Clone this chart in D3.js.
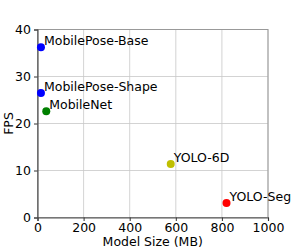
<!DOCTYPE html>
<html>
<head>
<meta charset="utf-8">
<script src="https://d3js.org/d3.v7.min.js"></script>
<style>
  body { margin: 0; background: #fff; }
  text { font-family: "DejaVu Sans", sans-serif; }
</style>
</head>
<body>
<div class="chart"></div>
<script>
var names = ['MobilePose-Base', 'MobilePose-Shape', 'MobileNet', 'YOLO-6D', 'YOLO-Seg'];
var modelSize = [15, 15, 38, 578, 820];
var fps = [36.2, 26.5, 22.6, 11.4, 3.1];
var colors = ['#0000ff', '#0000ff', '#008000', '#bfbf00', '#ff0000'];
var xTicks = [0, 200, 400, 600, 800, 1000];
var yTicks = [0, 10, 20, 30, 40];

var margin = { top: 29.5, right: 31, bottom: 31.5, left: 37.5 };
var width = 299 - margin.left - margin.right;
var height = 249 - margin.top - margin.bottom;

var svg = d3.select('.chart')
  .append('svg')
    .attr('width', 299)
    .attr('height', 249)
  .append('g')
    .attr('transform', 'translate(' + margin.left + ',' + margin.top + ')');

var xScale = d3.scaleLinear().domain([0, 1000]).range([0, width]);
var yScale = d3.scaleLinear().domain([0, 40]).range([height, 0]);

// grid
svg.append('g')
  .selectAll('line')
  .data(xTicks)
  .enter().append('line')
    .attr('x1', d => xScale(d)).attr('x2', d => xScale(d))
    .attr('y1', 0).attr('y2', height)
    .style('stroke', '#c8c8c8').style('stroke-width', 0.8);
svg.append('g')
  .selectAll('line')
  .data(yTicks)
  .enter().append('line')
    .attr('y1', d => yScale(d)).attr('y2', d => yScale(d))
    .attr('x1', 0).attr('x2', width)
    .style('stroke', '#c8c8c8').style('stroke-width', 0.8);

// top/right frame
svg.append('rect')
  .attr('x', 0).attr('y', 0).attr('width', width).attr('height', height)
  .style('fill', 'none').style('stroke', '#999').style('stroke-width', 1);

var xAxis = svg.append('g')
  .attr('transform', `translate(0, ${height})`)
  .call(d3.axisBottom(xScale).tickValues(xTicks).tickFormat(d3.format('d')).tickSize(3.5).tickPadding(2));
var yAxis = svg.append('g')
  .call(d3.axisLeft(yScale).tickValues(yTicks).tickFormat(d3.format('d')).tickSize(3.5).tickPadding(3));

[xAxis, yAxis].forEach(a => {
  a.select('.domain').style('stroke', '#555').style('stroke-width', 1.2);
  a.selectAll('.tick line').style('stroke', '#333');
  a.selectAll('.tick text')
    .style('font-family', '"DejaVu Sans", sans-serif')
    .style('font-size', '12.5px')
    .style('fill', '#000');
});

svg.selectAll('.pt')
  .data(names)
  .enter().append('circle')
    .attr('class', 'pt')
    .attr('cx', (d, i) => xScale(modelSize[i]))
    .attr('cy', (d, i) => yScale(fps[i]))
    .attr('r', 4)
    .style('fill', (d, i) => colors[i]);

svg.selectAll('.lbl')
  .data(names)
  .enter().append('text')
    .attr('class', 'lbl')
    .attr('x', (d, i) => xScale(modelSize[i]) + 3)
    .attr('y', (d, i) => yScale(fps[i]) - 2)
    .style('font-size', '12.5px')
    .text(d => d);

svg.append('text')
  .attr('x', width / 2)
  .attr('y', height + 28)
  .attr('text-anchor', 'middle')
  .style('font-size', '12.5px')
  .text('Model Size (MB)');

svg.append('text')
  .attr('transform', `translate(-25, ${height / 2}) rotate(-90)`)
  .attr('text-anchor', 'middle')
  .style('font-size', '12.5px')
  .text('FPS');
</script>
</body>
</html>
